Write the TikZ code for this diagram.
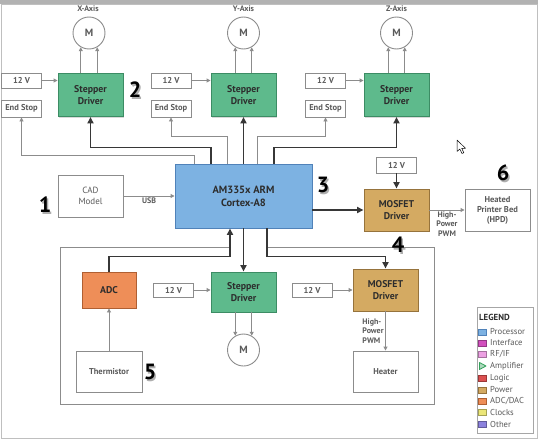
\documentclass[tikz,border=0pt]{standalone}
\usepackage{fontspec}
\setmainfont{PT Sans}
\usetikzlibrary{arrows.meta,shadows}

\definecolor{txtdark}{RGB}{45,45,45}
\definecolor{txtgray}{RGB}{90,90,90}
\definecolor{linegray}{RGB}{140,140,140}
\definecolor{busgray}{RGB}{55,55,55}
\definecolor{stepfill}{RGB}{94,186,140}
\definecolor{stepline}{RGB}{60,140,100}
\definecolor{cpufill}{RGB}{125,178,226}
\definecolor{cpuline}{RGB}{80,130,185}
\definecolor{mosfill}{RGB}{212,170,98}
\definecolor{mosline}{RGB}{150,115,60}
\definecolor{adcfill}{RGB}{238,142,88}
\definecolor{adcline}{RGB}{175,95,50}
\definecolor{cinter}{RGB}{210,80,190}
\definecolor{crfif}{RGB}{236,160,226}
\definecolor{camp}{RGB}{50,160,90}
\definecolor{clogic}{RGB}{220,80,80}
\definecolor{cclock}{RGB}{235,230,120}
\definecolor{cother}{RGB}{140,130,222}

\tikzset{
  sig/.style={draw=linegray,line width=.9pt,-{Triangle[length=4pt,width=4pt]}},
  bus/.style={draw=busgray,line width=1.6pt,-{Triangle[length=6.5pt,width=6pt]}},
  wbox/.style={draw=linegray,fill=white,line width=.9pt,text=txtgray,align=center,inner sep=0pt,
    font=\bfseries\fontsize{8.5}{10}\selectfont},
  vbox/.style={wbox,minimum width=40pt,minimum height=15pt},
  colbox/.style={line width=.9pt,text=txtdark,align=center,inner sep=0pt,minimum width=65pt,minimum height=43pt,
    font=\bfseries\fontsize{9.8}{11.8}\selectfont,drop shadow={shadow xshift=1.2pt,shadow yshift=-1.2pt,opacity=.3}},
  stepbox/.style={colbox,draw=stepline,fill=stepfill},
  mosbox/.style={colbox,draw=mosline,fill=mosfill},
  motor/.style={circle,draw=linegray,fill=white,line width=.9pt,minimum size=32pt,inner sep=0pt,
    text=txtgray,font=\bfseries\fontsize{10.5}{10.5}\selectfont},
  axis/.style={text=txtgray,font=\bfseries\fontsize{8}{8}\selectfont},
  small/.style={text=txtgray,align=center,font=\bfseries\fontsize{8}{9.2}\selectfont,inner sep=1.5pt},
  tag/.style={text=black,font=\bfseries\fontsize{22}{22}\selectfont,inner sep=0pt},
  tagshade/.style={text=black!45,opacity=.7,font=\bfseries\fontsize{22}{22}\selectfont,inner sep=0pt},
  swatch/.style={minimum width=8pt,minimum height=6pt,inner sep=0pt,line width=.6pt},
  legtext/.style={anchor=west,text=txtgray,inner sep=0pt,font=\fontsize{8.6}{9}\selectfont}
}

\begin{document}
\begin{tikzpicture}[x=1pt,y=-1pt]
\useasboundingbox (0,0) rectangle (538,439);
\fill[black!30] (0,0) rectangle (538,4);
\draw[black!25] (1,4) rectangle (537,438);

% axes on top
\node[axis] (xlab) at (88,9) {X-Axis};
\node[axis] (ylab) at (243.5,9) {Y-Axis};
\node[axis] (zlab) at (396.5,9) {Z-Axis};
\node[motor] (xmot) at (89,33) {M};
\node[motor] (ymot) at (243.5,33) {M};
\node[motor] (zmot) at (396.5,33) {M};
\node[stepbox] (xdrv) at (90.5,95) {Stepper\\Driver};
\node[stepbox] (ydrv) at (243.5,95) {Stepper\\Driver};
\node[stepbox] (zdrv) at (396.5,95) {Stepper\\Driver};
\node[vbox] (xv) at (21.5,80.5) {12 V};
\node[vbox,minimum height=17pt] (xend) at (21.5,108.5) {End Stop};
\node[vbox] (yv) at (171,80.5) {12 V};
\node[vbox,minimum height=17pt] (yend) at (171,108.5) {End Stop};
\node[vbox] (zv) at (325.5,80.5) {12 V};
\node[vbox,minimum height=17pt] (zend) at (325.5,108.5) {End Stop};

% processor and the heated bed
\node[colbox,draw=cpuline,fill=cpufill,minimum width=137pt,minimum height=64pt,font=\bfseries\fontsize{10.5}{13}\selectfont] (cpu) at (243.5,196) {AM335x ARM\\Cortex-A8};
\node[wbox,minimum width=65pt,minimum height=42pt,font=\fontsize{9}{11}\selectfont] (cad) at (90.5,196) {CAD\\Model};
\node[mosbox,minimum height=42pt] (mos) at (396.5,210) {MOSFET\\Driver};
\node[vbox,minimum height=16pt] (mv) at (396.5,165) {12 V};
\node[wbox,minimum width=65pt,minimum height=42pt] (hpd) at (497.5,210) {Heated\\Printer Bed\\(HPD)};

% lower board
\draw[draw=linegray,line width=.9pt] (230,247) -- (60,247) -- (60,404) -- (434,404) -- (434,247) -- (267,247);
\node[colbox,draw=adcline,fill=adcfill,minimum width=54pt,minimum height=36pt] (adc) at (109,290) {ADC};
\node[wbox,minimum width=66pt,minimum height=41pt] (therm) at (109,371.5) {Thermistor};
\node[stepbox,minimum height=40pt] (sdrv) at (243.5,292) {Stepper\\Driver};
\node[vbox,minimum height=14pt] (sv) at (173.5,290) {12 V};
\node[motor] (smot) at (243.5,350) {M};
\node[mosbox,minimum height=42pt] (mosb) at (385.5,290) {MOSFET\\Driver};
\node[vbox,minimum height=14pt] (mbv) at (312,290) {12 V};
\node[wbox,minimum width=65pt,minimum height=41pt] (heat) at (385.5,371.5) {Heater};

% connections
\draw[sig] (xmot.-120 |- xdrv.north) -- (xmot.-120);
\draw[sig] (xmot.-60 |- xdrv.north) -- (xmot.-60);
\draw[sig] (ymot.-120 |- ydrv.north) -- (ymot.-120);
\draw[sig] (ymot.-60 |- ydrv.north) -- (ymot.-60);
\draw[sig] (zmot.-120 |- zdrv.north) -- (zmot.-120);
\draw[sig] (zmot.-60 |- zdrv.north) -- (zmot.-60);
\draw[sig] (xv) -- (xv -| xdrv.west);
\draw[sig] (yv) -- (yv -| ydrv.west);
\draw[sig] (zv) -- (zv -| zdrv.west);
\draw[sig] ([xshift=-49.5pt]cpu.north) -- ++(0,-8) -| (xend);
\draw[sig] ([xshift=-16.5pt]cpu.north) -- ++(0,-27) -| (yend);
\draw[sig] ([xshift=13.5pt]cpu.north) -- ++(0,-27) -| (zend);
\draw[bus] ([xshift=-32.5pt]cpu.north) -- ++(0,-16) -| (xdrv);
\draw[bus] (cpu) -- (ydrv);
\draw[bus] ([xshift=30.5pt]cpu.north) -- ++(0,-16) -| (zdrv);
\draw[sig] (cad) -- (cpu) node[midway,below,small]{USB};
\draw[bus] (mos -| cpu.east) -- (mos);
\draw[bus] (mv) -- (mos);
\draw[sig] (mos) -- (hpd) node[midway,below,small]{High-\\Power\\PWM};
\draw[bus] (cpu) -- (sdrv);
\draw[bus] (adc.north) -- ++(0,-15) -| ([xshift=-13.5pt]cpu.south);
\draw[bus] ([xshift=23.5pt]cpu.south) -- ++(0,28) -| (mosb);
\draw[sig] (therm) -- (adc);
\draw[sig] (sv) -- (sv -| sdrv.west);
\draw[sig] (mbv) -- (mbv -| mosb.west);
\draw[sig] (smot.120 |- sdrv.south) -- (smot.120);
\draw[sig] (smot.60 |- sdrv.south) -- (smot.60);
\draw[sig] (mosb) -- (heat) node[midway,left,small,align=left]{High-\\Power\\PWM};

% number tags
\node[tagshade] at (46.5,206.5) {1};      \node[tag] (t1) at (45,205) {1};
\node[tagshade] at (136.5,91.5) {2};      \node[tag] (t2) at (135,90) {2};
\node[tagshade] at (324.5,186.5) {3};     \node[tag] (t3) at (323,185) {3};
\node[tagshade] at (399.5,246.5) {4};     \node[tag] (t4) at (398,245) {4};
\node[tagshade] at (151.5,373.5) {5};     \node[tag] (t5) at (150,372) {5};
\node[tagshade] at (504.5,174.5) {6};     \node[tag] (t6) at (503,173) {6};

% cursor
\draw[black,fill=white,line width=.5pt,line join=round] (457,140) -- (457,151.5) -- (459.8,149) -- (462,153.5) -- (463.8,152.7) -- (461.7,148.3) -- (465.5,148.3) -- cycle;

% legend
\node[draw=black!35,fill=white,line width=.8pt,minimum width=56pt,minimum height=126pt,inner sep=0pt] (legend) at (505,370) {};
\node[anchor=west,inner sep=0pt,text=txtdark,font=\bfseries\fontsize{8.8}{9}\selectfont] (legtitle) at (479,317.5) {LEGEND};
\node[swatch,draw=cpuline,fill=cpufill] (s1) at (482.5,332) {};    \node[legtext] at (490,332) {Processor};
\node[swatch,draw=cinter!70!black,fill=cinter] (s2) at (482.5,343) {}; \node[legtext] at (490,343) {Interface};
\node[swatch,draw=crfif!70!black,fill=crfif] (s3) at (482.5,354) {};   \node[legtext] at (490,354) {RF/IF};
\draw[camp,fill=camp!40,line width=.8pt,line join=round] (479.5,362.5) -- (486,366) -- (479.5,369.5) -- cycle; \node[legtext] at (490,366) {Amplifier};
\node[swatch,draw=clogic!70!black,fill=clogic] (s5) at (482.5,378.5) {}; \node[legtext] at (490,378.5) {Logic};
\node[swatch,draw=mosline,fill=mosfill] (s6) at (482.5,390) {};    \node[legtext] at (490,390) {Power};
\node[swatch,draw=adcline,fill=adcfill] (s7) at (482.5,401) {};    \node[legtext] at (490,401) {ADC/DAC};
\node[swatch,draw=cclock!70!black,fill=cclock] (s8) at (482.5,412.5) {}; \node[legtext] at (490,412.5) {Clocks};
\node[swatch,draw=cother!70!black,fill=cother] (s9) at (482.5,424) {};  \node[legtext] at (490,424) {Other};
\end{tikzpicture}
\end{document}
